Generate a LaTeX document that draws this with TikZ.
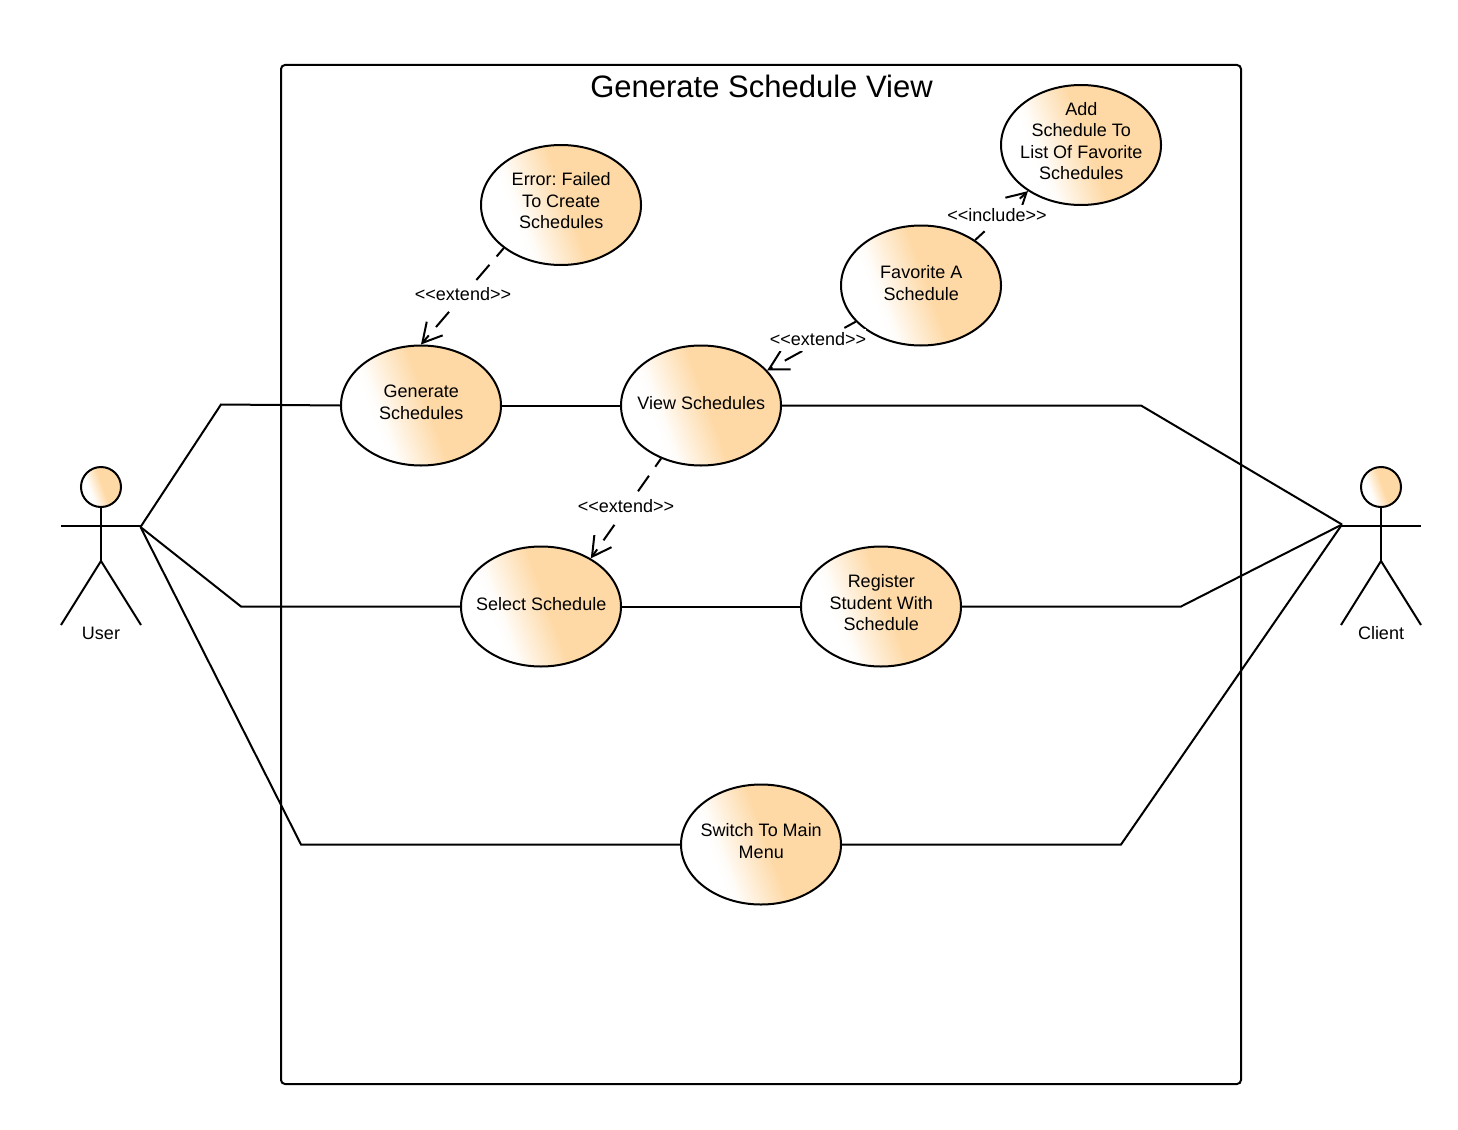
\documentclass[tikz,border=0pt]{standalone}
\usepackage{fontspec}
\setmainfont{Liberation Sans}
\frenchspacing
\usetikzlibrary{arrows.meta,shapes.geometric}
\definecolor{ucorange}{RGB}{254,217,166}
\pgfdeclarehorizontalshading{ucfade}{100bp}{color(0bp)=(white);color(33bp)=(white);color(36bp)=(white!95!ucorange);color(52bp)=(ucorange);color(100bp)=(ucorange)}
\newcommand\uct[2][-3pt]{\makebox[0pt]{\kern0.5pt\smash{\raisebox{#1}{\begin{tabular}{@{}c@{}}#2\end{tabular}}}}}
\tikzset{
  x=1pt,y=-1pt,
  line/.style={draw=black,line width=2pt},
  limb/.style={line,line cap=butt,line join=miter},
  usecase/.style={shape=ellipse,line,minimum width=160pt,minimum height=120pt,inner sep=0pt,
    shading=ucfade,shading angle=20,font=\fontsize{18}{21.6}\selectfont,text=black},
  head/.style={shape=circle,line,minimum size=40pt,inner sep=0pt,shading=ucfade,shading angle=20},
  actorname/.style={font=\fontsize{18}{21.6}\selectfont,text=black},
  stereo/.style={fill=white,inner sep=0pt,text height=17pt,text depth=5pt,font=\fontsize{18}{21.6}\selectfont,text=black},
  depend/.style={line,dash pattern=on 20pt off 11pt,dash phase=9pt,
    -{Straight Barb[length=19pt,width=21pt,line width=2pt]}},
  depend wide/.style={depend,dash pattern=on 20pt off 14pt,dash phase=7pt},
  depend tight/.style={depend,dash pattern=on 19pt off 11pt,dash phase=9pt},
}
\begin{document}
\begin{tikzpicture}
\useasboundingbox (0,0) rectangle (1458,1129);
\fill[white] (0,0) rectangle (1458,1129);
% system frame
\node[draw=black,line width=2pt,rounded corners=4pt,minimum width=960pt,minimum height=1019pt,inner sep=0pt] (frame) at (761,574.5) {};
\node[font=\fontsize{31}{37}\selectfont,text=black] (title) at (761.5,86) {Generate Schedule View};
% use cases
\node[usecase] (err) at (561,205) {\uct[-2pt]{Error: Failed\\To Create\\Schedules}};
\node[usecase] (add) at (1081,145) {\uct[-2.5pt]{Add\\Schedule To\\List Of Favorite\\Schedules}};
\node[usecase] (fav) at (921,285.5) {\uct[-4pt]{Favorite A\\Schedule}};
\node[usecase] (gen) at (421,405.5) {\uct{Generate\\Schedules}};
\node[usecase] (vie) at (701,405.5) {\uct[-4pt]{View Schedules}};
\node[usecase] (sel) at (541,606.5) {\uct[-4pt]{Select Schedule}};
\node[usecase] (reg) at (881,606.5) {\uct[-2.5pt]{Register\\Student With\\Schedule}};
\node[usecase] (swi) at (761,844.5) {\uct{Switch To Main\\Menu}};
% actors
\node[head] (uhead) at (101,487) {};
\coordinate (uhip) at (101,561);
\coordinate (uhandl) at (61,526);
\coordinate (uhand) at (141,526);
\coordinate (ufootl) at (61,625);
\coordinate (ufootr) at (141,625);
\draw[limb] (uhead.south) -- (uhip);
\draw[limb] (uhandl) -- (uhand);
\draw[limb] (ufootl) -- (uhip) -- (ufootr);
\node[actorname] (ulabel) at (101,633) {User};
\node[head] (chead) at (1381,487) {};
\coordinate (chip) at (1381,561);
\coordinate (chandr) at (1421,526);
\coordinate (chand) at (1341,526);
\coordinate (cfootl) at (1341,625);
\coordinate (cfootr) at (1421,625);
\draw[limb] (chead.south) -- (chip);
\draw[limb] (chand) -- (chandr);
\draw[limb] (cfootl) -- (chip) -- (cfootr);
\node[actorname] (clabel) at (1381,633) {Client};
% associations
\coordinate (ujoin) at (140.5,527);
\coordinate (cjoin) at (1342,524.5);
\coordinate (b1) at (221,404.5);
\coordinate (b2) at (241,606.5);
\coordinate (b3) at (301,844.5);
\coordinate (b4) at (1141,405.5);
\coordinate (b5) at (1181,606.5);
\coordinate (b6) at (1121,844.5);
\draw[line] (ujoin) -- (b1) -- (gen.west);
\draw[line] (gen) -- (vie);
\draw[line] (vie.east) -- (b4) -- (cjoin);
\draw[line] (ujoin) -- (b2) -- (sel.west);
\draw[line] (sel) -- (reg);
\draw[line] (reg.east) -- (b5) -- (cjoin);
\draw[line] (ujoin) -- (b3) -- (swi.west);
\draw[line] (swi.east) -- (b6) -- (cjoin);
% dependencies
\draw[depend] (err.217.5) -- (gen.north);
\node[stereo] (l1) at (463,294.5) {<{}<extend>{}>};
\draw[depend wide] (fav.209.4) -- (vie.28.6);
\node[stereo] (l2) at (818,339.5) {<{}<extend>{}>};
\draw[depend tight] (vie.233) -- (sel.44);
\node[stereo] (l3) at (626,506.5) {<{}<extend>{}>};
\draw[depend wide] (fav.40.9) -- (add.221.5);
\node[stereo] (l4) at (997,215.5) {<{}<include>{}>};
\end{tikzpicture}
\end{document}
